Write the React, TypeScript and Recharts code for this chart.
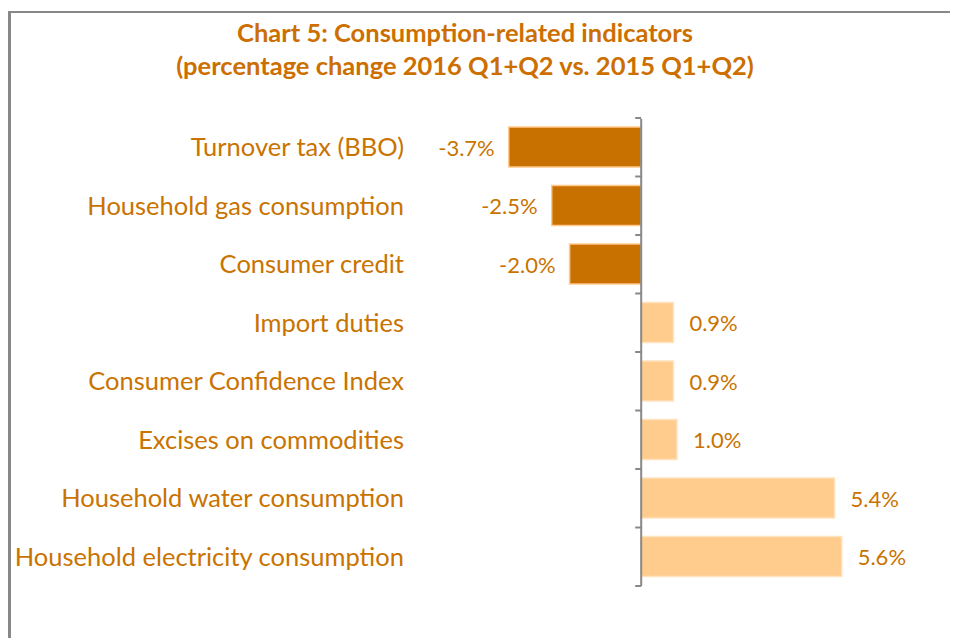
import React from "react";
import { BarChart, Bar, XAxis, YAxis, Cell, LabelList, ReferenceLine } from "recharts";

const categories: string[] = [
  "Turnover tax (BBO)",
  "Household gas consumption",
  "Consumer credit",
  "Import duties",
  "Consumer Confidence Index",
  "Excises on commodities",
  "Household water consumption",
  "Household electricity consumption",
];
const values: number[] = [-3.7, -2.5, -2.0, 0.9, 0.9, 1.0, 5.4, 5.6];
const titleLines: string[] = [
  "Chart 5: Consumption-related indicators",
  "(percentage change 2016 Q1+Q2 vs. 2015 Q1+Q2)",
];

const data = categories.map((name, i) => ({ name, value: values[i] }));

const FONT = "Lato, 'Open Sans', sans-serif";
const TEXT = "#C97300";
const DARK = "#C87000";
const LIGHT = "#FFCC8E";

const AxisShape = (props: any) => {
  const { x1, y1, x2, y2 } = props;
  const n = categories.length;
  const step = (y2 - y1) / n;
  const ticks = [];
  for (let i = 0; i <= n; i++) {
    const y = y1 + i * step;
    ticks.push(<line key={i} x1={x1 - 6} x2={x1} y1={y} y2={y} stroke="#888" strokeWidth={2} />);
  }
  return (
    <g>
      <line x1={x1} x2={x2} y1={y1} y2={y2 + 1} stroke="#888" strokeWidth={2} />
      {ticks}
    </g>
  );
};

const renderLabel = (props: any) => {
  const { x, y, width, height, value } = props;
  const neg = value < 0;
  const tx = neg ? x + width - 14 : x + width + 16;
  return (
    <text
      x={tx}
      y={y + height / 2 + 3}
      textAnchor={neg ? "end" : "start"}
      dominantBaseline="middle"
      fill={TEXT}
      fontFamily={FONT}
      fontSize={22}
    >
      {value.toFixed(1) + "%"}
    </text>
  );
};

export default function App() {
  return (
    <div
      style={{
        position: "relative",
        marginTop: 3,
        width: 947,
        height: 625,
        borderTop: "2px solid #888",
        borderLeft: "3px solid #888",
        background: "#fff",
      }}
    >
      <div
        style={{
          position: "absolute",
          left: -3,
          top: 3,
          width: 914,
          textAlign: "center",
          fontFamily: FONT,
          fontWeight: 700,
          fontSize: 25.5,
          lineHeight: "33px",
          color: "#CC6F00",
        }}
      >
        {titleLines.map((t) => (
          <div key={t}>{t}</div>
        ))}
      </div>
      <BarChart
        width={947}
        height={625}
        data={data}
        layout="vertical"
        margin={{ top: 105, right: 102, bottom: 52, left: 0 }}
        barSize={40}
      >
        <XAxis type="number" domain={[-4, 6]} hide />
        <YAxis
          type="category"
          dataKey="name"
          width={487}
          axisLine={false}
          tickLine={false}
          tickSize={0}
          tickMargin={94}
          interval={0}
          tick={{ fill: TEXT, fontFamily: FONT, fontSize: 25.5 }}
        />
        <Bar dataKey="value" isAnimationActive={false} strokeWidth={1.5}>
          {data.map((d, i) => (
            <Cell key={i} fill={d.value < 0 ? DARK : LIGHT} stroke={d.value < 0 ? "#FFC98A" : "#FFE2BE"} />
          ))}
          <LabelList dataKey="value" content={renderLabel} />
        </Bar>
        <ReferenceLine x={0} shape={AxisShape} ifOverflow="visible" />
      </BarChart>
    </div>
  );
}
